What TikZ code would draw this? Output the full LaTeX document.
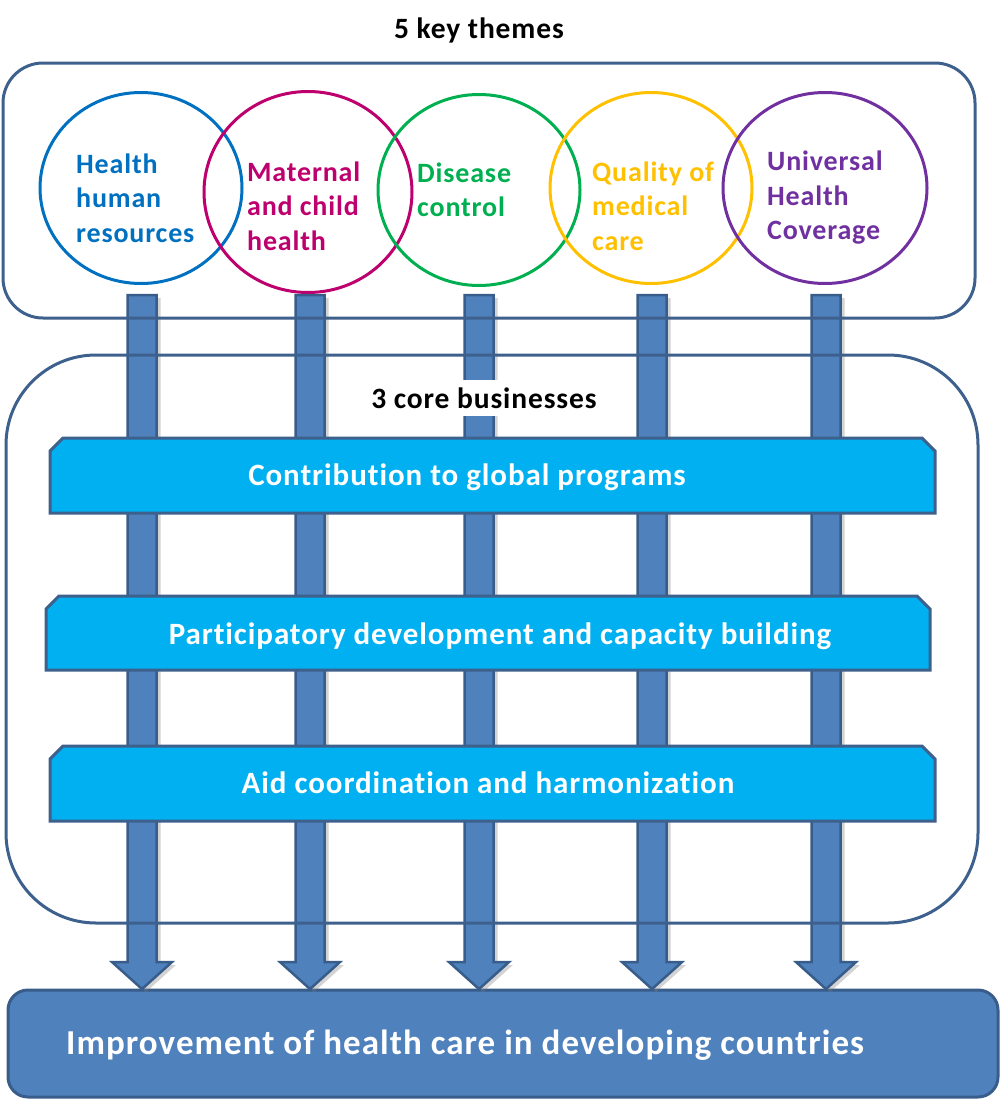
\documentclass[tikz,border=0pt]{standalone}
\usepackage{fontspec}
\setmainfont{Carlito}[LetterSpace=3, Ligatures=NoCommon]
\usetikzlibrary{shapes.geometric,shadows,calc}
\definecolor{boxline}{RGB}{62,96,140}
\definecolor{arrfill}{RGB}{79,129,189}
\definecolor{arrline}{RGB}{56,93,138}
\definecolor{cyanfill}{RGB}{0,176,240}
\definecolor{cblue}{RGB}{0,112,192}
\definecolor{cmag}{RGB}{190,0,110}
\definecolor{cgreen}{RGB}{0,176,80}
\definecolor{cyel}{RGB}{255,192,0}
\definecolor{cpurp}{RGB}{112,48,160}
\tikzset{
  theme/.style={ellipse, draw=#1, line width=3pt, minimum width=202pt, minimum height=191pt, inner sep=0pt},
  themetext/.style={anchor=west, align=left, font=\fontsize{28}{34.5}\selectfont\bfseries, text=#1, inner sep=0pt},
  banner/.style={draw=boxline, line width=3pt, fill=cyanfill},
  bannertext/.style={text=white, font=\fontsize{31}{36}\selectfont\bfseries, inner sep=0pt},
  bigarrow/.style={draw=arrline, line width=2.5pt, fill=arrfill, line join=miter,
     drop shadow={opacity=0.35, shadow xshift=4pt, shadow yshift=-3pt}},
  frame/.style={draw=boxline, line width=3pt},
}
\newcommand{\downarrowshape}[3]{% x, top y, tip y
  \path[bigarrow] (#1-14.5,#2) -- (#1+14.5,#2) -- (#1+14.5,#3-27) -- (#1+30,#3-27) -- (#1,#3) -- (#1-30,#3-27) -- (#1-14.5,#3-27) -- cycle;
}
\begin{document}
\begin{tikzpicture}[x=1pt,y=-1pt]
\useasboundingbox (0,0) rectangle (1000,1100);

% title
\node[font=\fontsize{29.5}{34}\selectfont\bfseries, inner sep=0pt] (title) at (479,30) {5 key themes};

% theme circles
\node[theme=cblue]  (c1) at (141,188) {};
\node[theme=cmag, minimum width=208pt, minimum height=201pt] (c2) at (308,192) {};
\node[theme=cgreen] (c3) at (479,190) {};
\node[theme=cyel]   (c4) at (651,188) {};
\node[theme=cpurp, minimum width=204pt]  (c5) at (825,188) {};

\node[themetext=cblue]  (t1) at (76,198)  {Health\\human\\resources};
\node[themetext=cmag]   (t2) at (247,206) {Maternal\\and child\\health};
\node[themetext=cgreen] (t3) at (417,190) {Disease\\control};
\node[themetext=cyel]   (t4) at (592,206) {Quality of\\medical\\care};
\node[themetext=cpurp]  (t5) at (767,198) {Universal\\Health\\Coverage};

% bottom box
\node[draw=arrline, line width=3pt, fill=arrfill, rounded corners=20pt, minimum width=990pt, minimum height=107pt, inner sep=0pt] (goal) at (503,1043.5) {};
\node[anchor=west, text=white, font=\fontsize{35}{42}\selectfont\bfseries, inner sep=0pt] (goaltext) at (66,1045) {Improvement of health care in developing countries};

% arrows from themes to goal
\foreach \i/\x in {1/142,2/310,3/479,4/652,5/826}{
  \downarrowshape{\x}{295}{989}
}

% frames (drawn over the arrows)
\draw[frame, rounded corners=40pt] (3,63) rectangle (975,318);
\node[draw=none, minimum width=972pt, minimum height=255pt, inner sep=0pt] (themesbox) at (489,190.5) {};
\draw[frame, rounded corners=90pt] (6,355) rectangle (978,923);
\node[draw=none, minimum width=972pt, minimum height=568pt, inner sep=0pt] (corebox) at (492,639) {};

\node[fill=white, font=\fontsize{29.5}{34}\selectfont\bfseries, inner xsep=3pt, inner ysep=8pt] (coretitle) at (484,398) {3 core businesses};

% banners
\path[banner] (50,513) -- (50,451) -- (63,438) -- (922,438) -- (935,451) -- (935,513) -- cycle;
\node[bannertext] (b1) at (467,477) {Contribution to global programs};
\path[banner] (46,670) -- (46,609) -- (59,596) -- (917,596) -- (930,609) -- (930,670) -- cycle;
\node[bannertext] (b2) at (500,636) {Participatory development and capacity building};
\path[banner] (50,821) -- (50,759) -- (63,746) -- (922,746) -- (935,759) -- (935,821) -- cycle;
\node[bannertext] (b3) at (488,783) {Aid coordination and harmonization};
\end{tikzpicture}
\end{document}
